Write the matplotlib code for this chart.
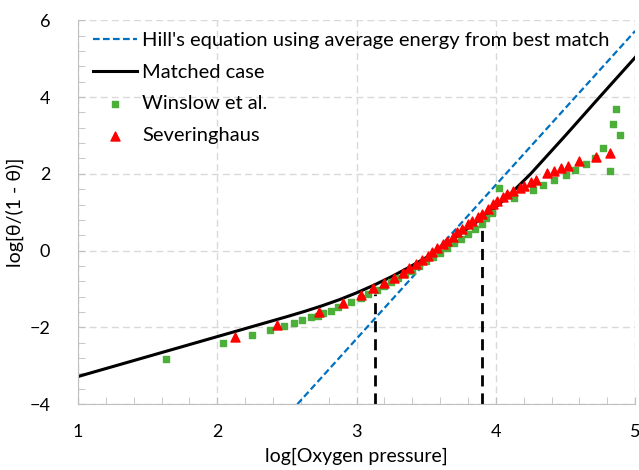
import matplotlib.pyplot as plt
from matplotlib.ticker import MultipleLocator

plt.rcParams["font.family"] = ["Lato", "DejaVu Sans"]

# Hill's equation line (endpoints)
hill_x = [2.575, 5.0]
hill_y = [-4.0, 5.72]

# matched case curve
match_x = [1.0, 1.5, 2.0, 2.5, 2.625, 2.75, 2.875, 3.0, 3.125, 3.25, 3.375, 3.5,
           3.625, 3.75, 3.875, 4.0, 4.125, 4.25, 4.375, 4.5, 4.75, 5.0]
match_y = [-3.28, -2.76, -2.24, -1.72, -1.585, -1.44, -1.28, -1.1, -0.9, -0.68, -0.44, -0.18,
           0.12, 0.45, 0.78, 1.13, 1.55, 2.0, 2.5, 3.0, 4.02, 5.03]

# Winslow et al.
winslow_x = [1.63, 2.04, 2.25, 2.38, 2.48, 2.55, 2.61, 2.67, 2.72, 2.76, 2.82, 2.87,
             2.96, 3.03, 3.08, 3.15, 3.20, 3.25, 3.30, 3.35, 3.40, 3.45, 3.50, 3.55,
             3.60, 3.65, 3.70, 3.75, 3.80, 3.85, 3.90, 3.93, 3.97, 4.02, 4.13, 4.27,
             4.34, 4.42, 4.50, 4.57, 4.65, 4.71, 4.77, 4.82, 4.84, 4.86, 4.89]
winslow_y = [-2.82, -2.41, -2.21, -2.08, -1.97, -1.875, -1.80, -1.74, -1.70, -1.63, -1.56, -1.48,
             -1.35, -1.23, -1.13, -1.02, -0.93, -0.83, -0.72, -0.62, -0.52, -0.40, -0.28, -0.16,
             -0.05, 0.07, 0.19, 0.31, 0.43, 0.55, 0.68, 0.86, 0.97, 1.62, 1.36, 1.59,
             1.71, 1.85, 1.98, 2.11, 2.26, 2.41, 2.66, 2.08, 3.30, 3.69, 3.01]

# Severinghaus
sev_x = [2.13, 2.43, 2.73, 2.90, 3.03, 3.12, 3.20, 3.27, 3.33, 3.38, 3.43, 3.47,
         3.51, 3.54, 3.58, 3.62, 3.65, 3.69, 3.72, 3.76, 3.80, 3.83, 3.87, 3.90,
         3.94, 3.98, 4.01, 4.05, 4.08, 4.12, 4.17, 4.20, 4.25, 4.29, 4.37, 4.42,
         4.47, 4.52, 4.60, 4.72, 4.82]
sev_y = [-2.24, -1.94, -1.61, -1.36, -1.15, -0.98, -0.84, -0.71, -0.59, -0.45, -0.35, -0.24,
         -0.13, -0.04, 0.06, 0.16, 0.26, 0.36, 0.48, 0.57, 0.68, 0.78, 0.87, 0.95,
         1.08, 1.21, 1.30, 1.39, 1.48, 1.55, 1.63, 1.69, 1.78, 1.84, 2.01, 2.08,
         2.15, 2.21, 2.33, 2.43, 2.53]

# vertical markers (x position, top of dashed line)
vline_x = [3.13, 3.90]
vline_top = [-1.12, 0.62]

fig = plt.figure(figsize=(6.39, 4.70), dpi=100)
ax = fig.add_axes([0.122, 0.14, 0.872, 0.817])

ax.plot(hill_x, hill_y, color="#0070C0", linestyle=(0, (3, 1.5)), linewidth=1.6,
        label="Hill's equation using average energy from best match")
ax.plot(match_x, match_y, color="black", linewidth=2.2, label="Matched case")
ax.scatter(winslow_x, winslow_y, marker="s", s=22, color="#4CAF3A", zorder=3,
           label="Winslow et al.")
ax.scatter(sev_x, sev_y, marker="^", s=42, color="red", zorder=4,
           label="Severinghaus")
for vx, vt in zip(vline_x, vline_top):
    ax.plot([vx, vx], [-4, vt], color="black", linestyle=(0, (4, 2.5)), linewidth=2)

ax.set_xlim(1, 5)
ax.set_ylim(-4, 6)
ax.xaxis.set_major_locator(MultipleLocator(1))
ax.xaxis.set_minor_locator(MultipleLocator(0.2))
ax.yaxis.set_major_locator(MultipleLocator(2))
ax.yaxis.set_minor_locator(MultipleLocator(0.4))
ax.grid(True, which="major", color="#d9d9d9", linestyle=(0, (5, 3)), linewidth=1)
ax.set_axisbelow(True)

for side in ["top", "right"]:
    ax.spines[side].set_visible(False)
for side in ["left", "bottom"]:
    ax.spines[side].set_color("#bfbfbf")

ax.tick_params(which="both", direction="in", color="#bfbfbf", labelsize=13)
ax.tick_params(axis="x", pad=14)
ax.tick_params(axis="y", pad=20)
ax.tick_params(which="both", length=5)

ax.set_xlabel("log[Oxygen pressure]", fontsize=14)
ax.set_ylabel("log[θ/(1 - θ)]", fontsize=14)
ax.xaxis.set_label_coords(0.5, -0.113)
ax.yaxis.set_label_coords(-0.097, 0.5)

ax.legend(loc="upper left", frameon=False, fontsize=14.5, handlelength=2.2,
          handletextpad=0.25, labelspacing=0.72, borderaxespad=0.0,
          bbox_to_anchor=(0.012, 0.99))

fig.savefig("out.png", dpi=100)
